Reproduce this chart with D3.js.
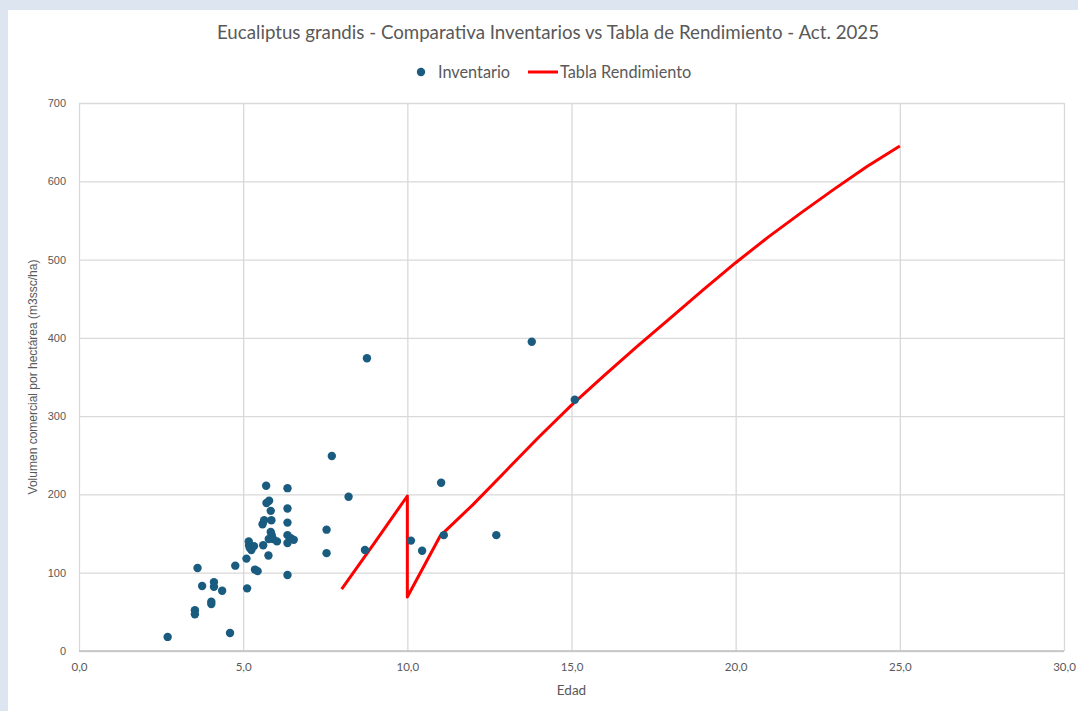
<!DOCTYPE html>
<html><head><meta charset="utf-8">
<script src="https://cdn.jsdelivr.net/npm/d3@7"></script>
<style>
html,body{margin:0;padding:0;background:#dde6f0;overflow:hidden}
svg{display:block}
</style></head>
<body>
<svg id="c" width="1078" height="711"></svg>
<script>
const title = "Eucaliptus grandis - Comparativa Inventarios vs Tabla de Rendimiento - Act. 2025";
const xLabel = "Edad";
const yLabel = "Volumen comercial por hectárea (m3ssc/ha)";
const seriesNames = ["Inventario", "Tabla Rendimiento"];
const xTicks = [0, 5, 10, 15, 20, 25, 30];
const yTicks = [0, 100, 200, 300, 400, 500, 600, 700];

// Inventario (edad, volumen)
const invEdad = [2.70, 3.61, 3.53, 3.53, 3.75, 4.11, 4.11, 4.03, 4.03, 4.36, 4.60, 4.76, 5.12, 5.10,
  5.17, 5.18, 5.20, 5.25, 5.33, 5.36, 5.44, 5.61, 5.59, 5.64, 5.70, 5.71, 5.79, 5.77, 5.84, 5.86,
  5.84, 5.87, 5.78, 5.91, 6.03, 6.35, 6.35, 6.35, 6.35, 6.35, 6.45, 6.54, 6.35, 7.54, 7.54, 7.70,
  8.21, 8.71, 8.77, 10.11, 10.45, 11.03, 11.11, 12.71, 13.79, 15.10];
const invVol = [18, 106, 52, 47, 83, 88, 82, 63, 60, 77, 23, 109, 80, 118,
  140, 135, 132, 129, 134, 104, 102, 135, 162, 167, 211, 189, 192, 122, 179, 167,
  152, 148, 143, 143, 140, 208, 182, 164, 148, 138, 144, 142, 97, 155, 125, 249,
  197, 129, 374, 141, 128, 215, 148, 148, 395, 321];

// Tabla de rendimiento
const tablaEdad = [8, 9, 10, 10, 11, 12, 13, 14, 15, 16, 17, 18, 19, 20, 21, 22, 23, 24, 25];
const tablaVol  = [79, 138, 198, 69, 147, 187, 230, 273, 314, 352, 389, 425, 461, 496, 529, 560, 590, 619, 645];

const svg = d3.select("#c");
const W = 1078, H = 711;
const m = {left: 79, right: 1064, top: 103, bottom: 651};

svg.append("rect").attr("x", 8).attr("y", 10).attr("width", W).attr("height", H)
  .attr("fill", "#ffffff");

const x = d3.scaleLinear().domain([0, 30]).range([m.left, m.right]);
const y = d3.scaleLinear().domain([0, 700]).range([m.bottom, m.top]);

const font = "Lato, 'Open Sans', sans-serif";
const gray = "#595959";

// gridlines
svg.append("g").attr("transform", `translate(0,${m.bottom})`)
  .call(d3.axisBottom(x).tickValues(xTicks).tickSize(-(m.bottom - m.top)).tickFormat(""))
  .call(g => g.select(".domain").remove())
  .call(g => g.selectAll("line").attr("stroke", "#d9d9d9").attr("stroke-width", 1.3));
svg.append("g").attr("transform", `translate(${m.left},0)`)
  .call(d3.axisLeft(y).tickValues(yTicks).tickSize(-(m.right - m.left)).tickFormat(""))
  .call(g => g.select(".domain").remove())
  .call(g => g.selectAll("line").attr("stroke", "#d9d9d9").attr("stroke-width", 1.3));

// axis line
svg.append("line").attr("x1", m.left).attr("x2", m.right).attr("y1", m.bottom).attr("y2", m.bottom)
  .attr("stroke", "#bfbfbf").attr("stroke-width", 1.5);

// tick labels
const fmtX = d => d3.format(".1f")(d).replace(".", ",");
svg.append("g").attr("transform", `translate(0,${m.bottom})`)
  .call(d3.axisBottom(x).tickValues(xTicks).tickSize(0).tickPadding(12).tickFormat(fmtX))
  .call(g => g.select(".domain").remove())
  .call(g => g.selectAll("text").attr("fill", gray).style("font-family", font).style("font-size", "11.5px"));
svg.append("g").attr("transform", `translate(${m.left},0)`)
  .call(d3.axisLeft(y).tickValues(yTicks).tickSize(0).tickPadding(13).tickFormat(d3.format("d")))
  .call(g => g.select(".domain").remove())
  .call(g => g.selectAll("text").attr("fill", gray).style("font-family", "Arial, 'Liberation Sans', sans-serif").style("font-size", "11px"));

// axis titles
svg.append("text").attr("x", (m.left + m.right) / 2).attr("y", 695).attr("text-anchor", "middle")
  .attr("fill", gray).style("font-family", font).style("font-size", "13.5px").text(xLabel);
svg.append("text").attr("transform", `translate(37,${(m.top + m.bottom) / 2}) rotate(-90)`)
  .attr("text-anchor", "middle").attr("fill", gray)
  .style("font-family", "Arial, 'Liberation Sans', sans-serif").style("font-size", "12px").text(yLabel);

// title
svg.append("text").attr("x", 548).attr("y", 39).attr("text-anchor", "middle")
  .attr("fill", gray).style("font-family", font).style("font-size", "18.7px").text(title);

// legend
const lg = svg.append("g").style("font-family", font).style("font-size", "16.3px").attr("fill", gray);
lg.append("circle").attr("cx", 421).attr("cy", 72).attr("r", 4.2).attr("fill", "#1a5c7f");
lg.append("text").attr("x", 438).attr("y", 77.5).text(seriesNames[0]);
lg.append("line").attr("x1", 528).attr("x2", 558).attr("y1", 72).attr("y2", 72)
  .attr("stroke", "#ff0000").attr("stroke-width", 3);
lg.append("text").attr("x", 560).attr("y", 77.5).text(seriesNames[1]);

// line
const tabla = tablaEdad.map((d, i) => ({x: d, y: tablaVol[i]}));
svg.append("path").datum(tabla)
  .attr("fill", "none").attr("stroke", "#ff0000").attr("stroke-width", 3).attr("stroke-linejoin", "round")
  .attr("d", d3.line().x(d => x(d.x)).y(d => y(d.y)));

// points
const inv = invEdad.map((d, i) => ({x: d, y: invVol[i]}));
svg.append("g").selectAll("circle").data(inv).join("circle")
  .attr("cx", d => x(d.x)).attr("cy", d => y(d.y)).attr("r", 4.2).attr("fill", "#1a5c7f");
</script>
</body></html>
